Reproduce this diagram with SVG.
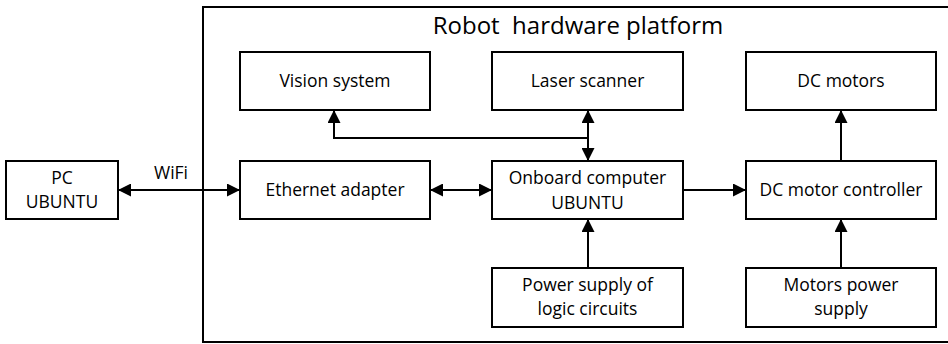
<svg xmlns="http://www.w3.org/2000/svg" width="948" height="344" viewBox="0 0 948 344">
  <style>
    .box { fill: #ffffff; stroke: #000000; stroke-width: 2; }
    .frame { fill: none; stroke: #000000; stroke-width: 2; }
    .lbl { font-family: "Open Sans", "Liberation Sans", sans-serif; font-size: 17.5px; fill: #000000; text-anchor: middle; }
    .title { font-family: "Open Sans", "Liberation Sans", sans-serif; font-size: 24px; fill: #000000; text-anchor: middle; }
    .wire { fill: none; stroke: #000000; stroke-width: 2; }
  </style>
  <defs>
    <marker id="arrow" viewBox="0 0 13 13" refX="13" refY="6.5" markerWidth="13" markerHeight="13" markerUnits="userSpaceOnUse" orient="auto-start-reverse">
      <path d="M0,0 L13,6.5 L0,13 Z" fill="#000000"/>
    </marker>
  </defs>
  <rect width="948" height="344" fill="#ffffff"/>

  <!-- Robot platform frame -->
  <g id="platform">
    <rect class="frame" x="203" y="7" width="747" height="335"/>
    <text class="title" x="578" y="34" xml:space="preserve">Robot  hardware platform</text>
  </g>

  <g id="pc">
    <rect class="box" x="6" y="161" width="112" height="58"/>
    <text class="lbl" x="62" y="184">PC</text>
    <text class="lbl" x="62" y="208">UBUNTU</text>
  </g>

  <g id="vision">
    <rect class="box" x="240" y="52" width="190" height="58"/>
    <text class="lbl" x="335" y="87">Vision system</text>
  </g>

  <g id="laser">
    <rect class="box" x="492" y="52" width="191" height="58"/>
    <text class="lbl" x="587.5" y="87">Laser scanner</text>
  </g>

  <g id="dc-motors">
    <rect class="box" x="746" y="52" width="190" height="58"/>
    <text class="lbl" x="841" y="87">DC motors</text>
  </g>

  <g id="ethernet">
    <rect class="box" x="240" y="161" width="190" height="58"/>
    <text class="lbl" x="335" y="196">Ethernet adapter</text>
  </g>

  <g id="onboard">
    <rect class="box" x="492" y="161" width="191" height="58"/>
    <text class="lbl" x="587.5" y="184">Onboard computer</text>
    <text class="lbl" x="587.5" y="209">UBUNTU</text>
  </g>

  <g id="controller">
    <rect class="box" x="746" y="161" width="190" height="58"/>
    <text class="lbl" x="841" y="196">DC motor controller</text>
  </g>

  <g id="logic-power">
    <rect class="box" x="492" y="268" width="191" height="59"/>
    <text class="lbl" x="587.5" y="291">Power supply of</text>
    <text class="lbl" x="587.5" y="315">logic circuits</text>
  </g>

  <g id="motor-power">
    <rect class="box" x="746" y="268" width="190" height="59"/>
    <text class="lbl" x="841" y="291">Motors power</text>
    <text class="lbl" x="841" y="315">supply</text>
  </g>

  <g id="connectors">
    <line class="wire" x1="118" y1="190" x2="240" y2="190" marker-start="url(#arrow)" marker-end="url(#arrow)"/>
    <text class="lbl" x="171" y="179">WiFi</text>
    <line class="wire" x1="430" y1="190" x2="492" y2="190" marker-start="url(#arrow)" marker-end="url(#arrow)"/>
    <line class="wire" x1="683" y1="190" x2="746" y2="190" marker-end="url(#arrow)"/>
    <line class="wire" x1="588" y1="110" x2="588" y2="161" marker-start="url(#arrow)" marker-end="url(#arrow)"/>
    <polyline class="wire" points="588,138 334,138 334,110" marker-end="url(#arrow)"/>
    <line class="wire" x1="841" y1="161" x2="841" y2="110" marker-end="url(#arrow)"/>
    <line class="wire" x1="588" y1="268" x2="588" y2="219" marker-end="url(#arrow)"/>
    <line class="wire" x1="841" y1="268" x2="841" y2="219" marker-end="url(#arrow)"/>
  </g>
</svg>
